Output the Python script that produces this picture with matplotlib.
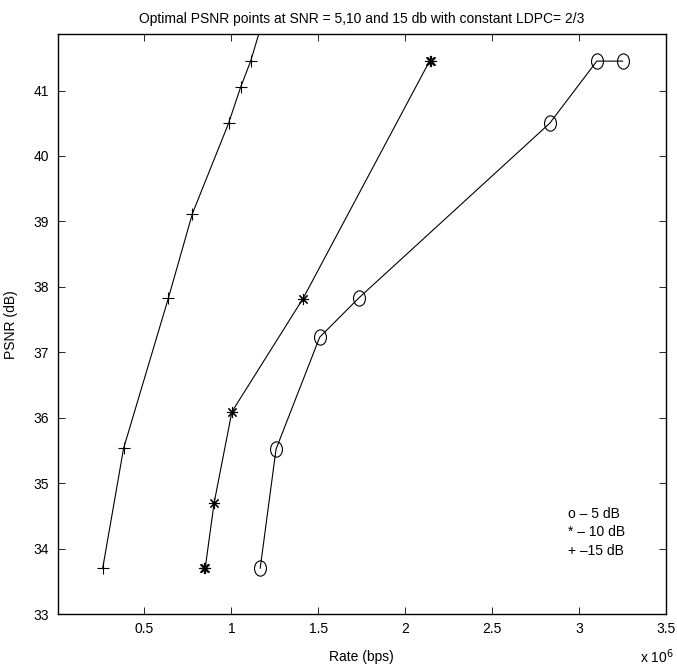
import matplotlib
matplotlib.use("Agg")
import matplotlib.pyplot as plt
from matplotlib.path import Path
from matplotlib.transforms import Affine2D

plt.rcParams['font.family'] = ['Liberation Sans', 'DejaVu Sans']

# Data (rate in bps, PSNR in dB)
rate_5db = [1.166e6, 1.257e6, 1.508e6, 1.733e6, 2.831e6, 3.102e6, 3.250e6]
psnr_5db = [33.70, 35.52, 37.23, 37.83, 40.50, 41.45, 41.45]

rate_10db = [0.844e6, 0.850e6, 0.901e6, 1.003e6, 1.412e6, 2.140e6, 2.146e6]
psnr_10db = [33.71, 33.71, 34.70, 36.09, 37.82, 41.45, 41.45]

rate_15db = [0.260e6, 0.380e6, 0.638e6, 0.776e6, 0.984e6, 1.053e6, 1.111e6, 1.190e6]
psnr_15db = [33.70, 35.53, 37.83, 39.12, 40.50, 41.05, 41.45, 42.15]

xticks = [0.5e6, 1.0e6, 1.5e6, 2.0e6, 2.5e6, 3.0e6, 3.5e6]
xtick_labels = ['0.5', '1', '1.5', '2', '2.5', '3', '3.5']
yticks = [33, 34, 35, 36, 37, 38, 39, 40, 41]

legend_lines = ['o \u2013 5 dB', '* \u2013 10 dB', '+ \u201315 dB']

fig = plt.figure(figsize=(6.77, 6.71), dpi=100)
ax = fig.add_axes([57.5/677, (671-614)/671, (666-57.5)/677, (614-34.3)/671])

ellipse = Path.unit_circle().transformed(Affine2D().scale(0.78, 1.0))

ax.plot(rate_5db, psnr_5db, color='black', lw=0.8, marker=ellipse, ms=11,
        mfc='none', mec='black', mew=0.8)
ax.plot(rate_10db, psnr_10db, color='black', lw=0.8, marker=(8, 2, 0), ms=8,
        mec='black', mew=0.8)
ax.plot(rate_15db, psnr_15db, color='black', lw=0.8, marker='+', ms=9,
        mec='black', mew=0.8)

ax.set_xlim(0, 3.5e6)
ax.set_ylim(33, 41.86)
ax.set_xticks(xticks)
ax.set_xticklabels(xtick_labels)
ax.set_yticks(yticks)
ax.tick_params(direction='in', top=True, right=True, length=5, width=0.6,
               labelsize=10, pad=6)
for s in ax.spines.values():
    s.set_linewidth(1.0)

ax.set_title('Optimal PSNR points at SNR = 5,10 and 15 db with constant LDPC= 2/3',
             fontsize=10, pad=8)
ax.set_xlabel('Rate (bps)', fontsize=10, labelpad=10)
ax.set_ylabel('PSNR (dB)', fontsize=10)
ax.yaxis.set_label_coords((18 - 57.5) / (666 - 57.5), 0.5)

fig.text(640/677, 1 - 657/671, r'x 10$^{6}$', fontsize=10, ha='left', va='center')

for i, t in enumerate(legend_lines):
    fig.text(568/677, 1 - (514 + 18.5*i)/671, t, fontsize=10, ha='left', va='center')

fig.savefig('out.png', dpi=100)
